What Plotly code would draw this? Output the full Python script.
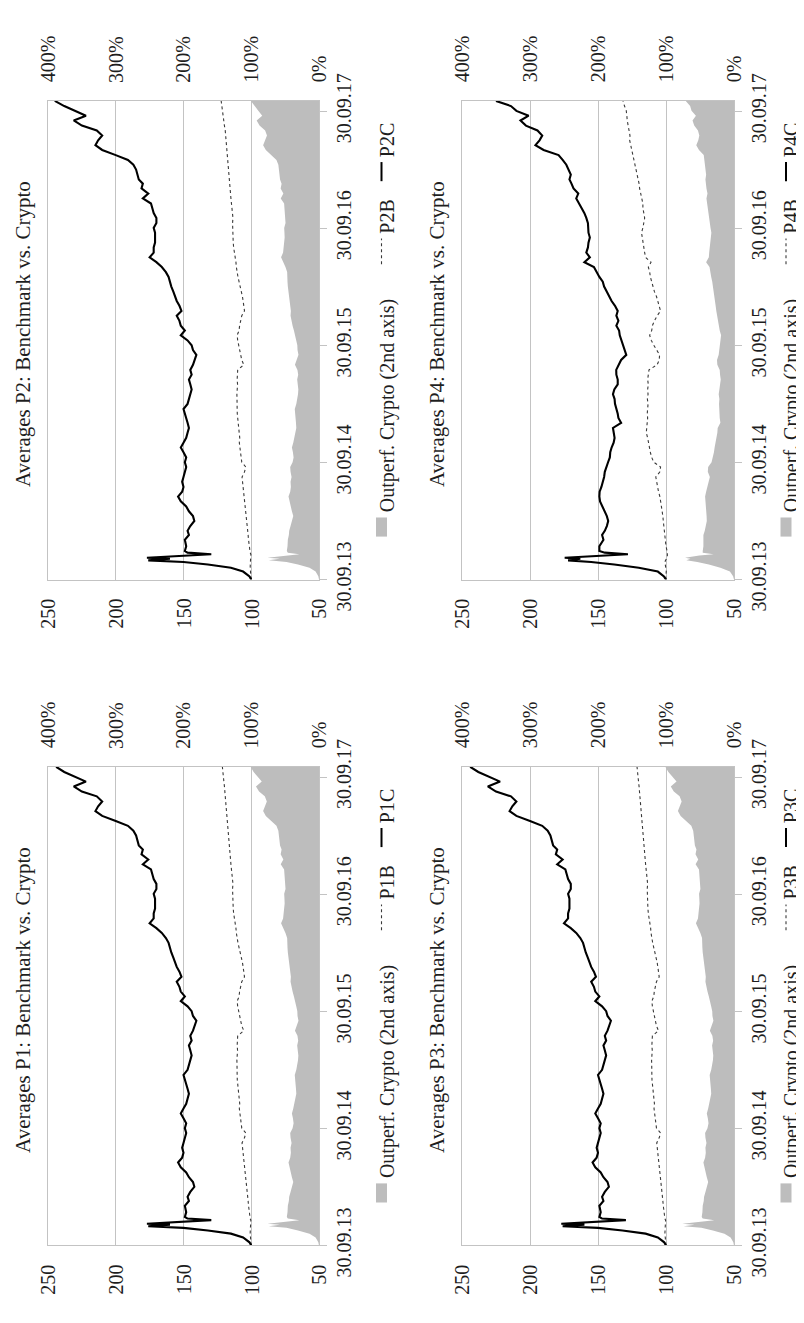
import plotly.graph_objects as go

# ---------------- data ----------------
DATES = [
    "2013-09-30", "2013-10-10", "2013-10-25", "2013-11-06", "2013-11-16", "2013-11-24",
    "2013-11-29", "2013-12-04", "2013-12-07", "2013-12-14", "2013-12-18", "2013-12-23",
    "2013-12-28", "2014-01-12",
    "2014-02-01", "2014-02-16", "2014-03-01", "2014-03-16", "2014-04-01", "2014-04-16",
    "2014-05-01", "2014-05-16", "2014-06-01", "2014-06-16", "2014-07-01", "2014-07-16",
    "2014-08-01", "2014-08-16", "2014-09-01", "2014-09-16", "2014-10-01", "2014-10-16",
    "2014-11-01", "2014-11-16", "2014-12-01", "2014-12-16",
    "2015-01-01", "2015-01-16", "2015-02-01", "2015-02-16", "2015-03-01", "2015-03-16",
    "2015-04-01", "2015-04-16", "2015-05-01", "2015-05-16", "2015-06-01", "2015-06-16",
    "2015-07-01", "2015-07-16", "2015-08-01", "2015-08-16", "2015-09-01", "2015-09-16",
    "2015-10-01", "2015-10-16", "2015-11-01", "2015-11-16", "2015-12-01", "2015-12-16",
    "2016-01-01", "2016-01-16", "2016-02-01", "2016-02-16", "2016-03-01", "2016-03-16",
    "2016-04-01", "2016-04-16", "2016-05-01", "2016-05-16", "2016-06-01", "2016-06-16",
    "2016-07-01", "2016-07-16", "2016-08-01", "2016-08-16", "2016-09-01", "2016-09-16",
    "2016-10-01", "2016-10-16", "2016-11-01", "2016-11-16", "2016-12-01", "2016-12-16",
    "2017-01-01", "2017-01-16", "2017-02-01", "2017-02-16", "2017-03-01", "2017-03-16",
    "2017-04-01", "2017-04-16", "2017-05-01", "2017-05-16", "2017-06-01", "2017-06-16",
    "2017-07-01", "2017-07-16", "2017-08-01", "2017-08-16", "2017-09-01", "2017-09-16",
    "2017-10-01", "2017-10-16", "2017-11-01",
]

P2_CRYPTO = [
    100, 101.3, 106, 115, 132, 150, 176, 160, 177, 152,
    129.5, 147, 149, 148, 149, 146, 147, 145, 142, 143,
    146, 148, 152, 154, 151, 150, 151, 150, 149, 148,
    149, 148, 150, 152, 150, 148, 147, 146, 147, 148,
    149, 150, 147, 146, 145, 144, 145, 146, 144, 145,
    143, 142, 140.5, 143, 144, 147, 152, 149, 152, 153,
    155, 151.5, 153, 155, 156, 157.5, 159, 160, 161, 163,
    166, 170, 175, 172, 172, 171, 171, 171, 172, 170,
    170, 172, 173, 174, 180, 176, 181, 180, 183, 184,
    185, 187, 191, 200, 210, 215, 213, 210, 214, 225,
    231, 222, 230, 238, 245,
]
P2_BENCH = [
    100, 100.3, 100.6, 100.8, 100.7, 100.5, 100.6, 100.4, 100.7, 100.5,
    100.3, 100.8, 101, 101.3, 102, 102.3, 102.6, 103, 103.4, 103.8,
    104, 104.5, 105, 105.5, 105.8, 106, 106.5, 106.8, 105, 104,
    107, 107.5, 108, 108.6, 108.8, 108.5, 109, 109.3, 109.6, 110,
    110.3, 110.4, 110.2, 110.5, 110.6, 110.3, 110.1, 110.4, 110.2, 110,
    105.5, 107, 107.8, 108.6, 109, 110, 110.4, 109, 108.6, 108,
    107, 105, 105.3, 106, 106.5, 107.5, 108.3, 109, 109.8, 110.5,
    111, 111.3, 112, 112.5, 113, 113.3, 113.5, 113.2, 113.6, 113.8,
    113.5, 114, 114.5, 114.8, 115, 115.3, 115.6, 116, 116.2, 116.5,
    116.8, 117, 117.3, 117.5, 117.6, 117.8, 118.2, 118.8, 119.2, 119.8,
    120.3, 120.8, 121.3, 121.8, 122.2,
]
P2_OUTPERF = [
    0, 1, 5, 14, 31, 48, 74, 58, 76, 51,
    29, 46, 47.5, 46.5, 46, 44.5, 44, 42, 40, 38,
    40, 41.5, 44, 45, 42.5, 41.5, 42, 40.5, 42, 42.5,
    39, 37.5, 38.5, 40, 38, 36.5, 35, 33.5, 34, 34.5,
    35, 35.8, 33.5, 32, 31, 30.5, 31.7, 32.2, 30.7, 31.8,
    35.5, 32.7, 30.3, 31.7, 32, 33.6, 35, 37, 39, 40,
    42, 41.5, 42.5, 44, 45, 45.5, 46, 46.5, 46.5, 47,
    49.5, 52.7, 56, 53, 52.2, 51, 50.7, 51, 51.4, 49.4,
    49.8, 51, 51, 51.5, 56.5, 52.6, 56.6, 55.2, 57.5, 58,
    58.4, 60, 62.8, 70, 78.5, 82.5, 80.2, 76.8, 79.5, 87.8,
    92, 83.8, 89.6, 95.5, 100.5,
]

P1_CRYPTO = [
    100, 101.3, 106, 115, 132, 150, 176, 160, 177, 152,
    129.5, 147, 149, 148, 149, 146, 147, 145, 142, 143,
    146, 148, 152, 154, 151, 150, 151, 150, 149, 148,
    149, 148, 150, 152, 150, 148, 147, 146, 147, 148,
    149, 150, 147, 146, 145, 144, 145, 146, 144, 145,
    143, 142, 140.5, 143, 144, 147, 152, 149, 152, 153,
    155, 151.5, 153, 155, 156, 157.5, 159, 160, 161, 163,
    166, 170, 175, 172, 172, 171, 171, 171, 172, 170,
    170, 172, 173, 174, 180, 176, 181, 180, 183, 184,
    185, 187, 191, 200, 210, 215, 213, 210, 214, 225,
    231, 222, 230, 238, 244,
]
P1_BENCH = [
    100, 100.3, 100.6, 100.8, 100.7, 100.5, 100.6, 100.4, 100.7, 100.5,
    100.3, 100.8, 101, 101.3, 102, 102.3, 102.6, 103, 103.4, 103.8,
    104, 104.5, 105, 105.5, 105.8, 106, 106.5, 106.8, 105, 104,
    107, 107.5, 108, 108.6, 108.8, 108.5, 109, 109.3, 109.6, 110,
    110.3, 110.4, 110.2, 110.5, 110.6, 110.3, 110.1, 110.4, 110.2, 110,
    105.5, 107, 107.8, 108.6, 109, 110, 110.4, 109, 108.6, 108,
    107, 105, 105.3, 106, 106.5, 107.5, 108.3, 109, 109.8, 110.5,
    111, 111.3, 112, 112.5, 113, 113.3, 113.5, 113.2, 113.6, 113.8,
    113.5, 114, 114.5, 114.8, 115, 115.3, 115.6, 116, 116.2, 116.5,
    116.8, 117, 117.3, 117.5, 117.6, 117.8, 118.2, 118.6, 119, 119.4,
    119.8, 120.2, 120.6, 121, 121.3,
]
P1_OUTPERF = [
    0, 1, 5, 14, 31, 48, 74, 58, 76, 51,
    29, 46, 47.5, 46.5, 46, 44.5, 44, 42, 40, 38,
    40, 41.5, 44, 45, 42.5, 41.5, 42, 40.5, 42, 42.5,
    39, 37.5, 38.5, 40, 38, 36.5, 35, 33.5, 34, 34.5,
    35, 35.8, 33.5, 32, 31, 30.5, 31.7, 32.2, 30.7, 31.8,
    35.5, 32.7, 30.3, 31.7, 32, 33.6, 35, 37, 39, 40,
    42, 41.5, 42.5, 44, 45, 45.5, 46, 46.5, 46.5, 47,
    49.5, 52.7, 56, 53, 52.2, 51, 50.7, 51, 51.4, 49.4,
    49.8, 51, 51, 51.5, 56.5, 52.6, 56.6, 55.2, 57.5, 58,
    58.4, 60, 62.8, 70, 78.5, 82.5, 80.2, 77, 80, 88.5,
    93, 84.5, 90.5, 96.5, 101,
]

P3_CRYPTO = [
    100, 101.3, 106, 115, 132, 150, 176, 160, 177, 152,
    129.5, 147, 149, 148, 149, 146, 147, 145, 142, 143,
    146, 148, 152, 154, 151, 150, 151, 150, 149, 148,
    149, 148, 150, 152, 150, 148, 147, 146, 147, 148,
    149, 150, 147, 146, 145, 144, 145, 146, 144, 145,
    143, 142, 140.5, 143, 144, 147, 152, 149, 152, 153,
    155, 151.5, 153, 155, 156, 157.5, 159, 160, 161, 163,
    166, 170, 175, 172, 172, 171, 171, 171, 172, 170,
    170, 172, 173, 174, 180, 176, 181, 180, 183, 184,
    185, 187, 191, 200, 210, 215, 213, 210, 214, 225,
    231, 222, 230, 238, 244,
]
P3_BENCH = [
    100, 100.3, 100.6, 100.8, 100.7, 100.5, 100.6, 100.4, 100.7, 100.5,
    100.3, 100.8, 101, 101.3, 102, 102.3, 102.6, 103, 103.4, 103.8,
    104, 104.5, 105, 105.5, 105.8, 106, 106.5, 106.8, 105, 104,
    107, 107.5, 108, 108.6, 108.8, 108.5, 109, 109.3, 109.6, 110,
    110.3, 110.4, 110.2, 110.5, 110.6, 110.3, 110.1, 110.4, 110.2, 110,
    105.5, 107, 107.8, 108.6, 109, 110, 110.4, 109, 108.6, 108,
    107, 105, 105.3, 106, 106.5, 107.5, 108.3, 109, 109.8, 110.5,
    111, 111.3, 112, 112.5, 113, 113.3, 113.5, 113.2, 113.6, 113.8,
    113.5, 114, 114.5, 114.8, 115, 115.3, 115.6, 116, 116.2, 116.5,
    116.8, 117, 117.3, 117.5, 117.6, 117.8, 118.2, 118.6, 119, 119.4,
    119.8, 120.2, 120.6, 121, 121.3,
]
P3_OUTPERF = [
    0, 1, 5, 14, 31, 48, 74, 58, 76, 51,
    29, 46, 47.5, 46.5, 46, 44.5, 44, 42, 40, 38,
    40, 41.5, 44, 45, 42.5, 41.5, 42, 40.5, 42, 42.5,
    39, 37.5, 38.5, 40, 38, 36.5, 35, 33.5, 34, 34.5,
    35, 35.8, 33.5, 32, 31, 30.5, 31.7, 32.2, 30.7, 31.8,
    35.5, 32.7, 30.3, 31.7, 32, 33.6, 35, 37, 39, 40,
    42, 41.5, 42.5, 44, 45, 45.5, 46, 46.5, 46.5, 47,
    49.5, 52.7, 56, 53, 52.2, 51, 50.7, 51, 51.4, 49.4,
    49.8, 51, 51, 51.5, 56.5, 52.6, 56.6, 55.2, 57.5, 58,
    58.4, 60, 62.8, 70, 78.5, 82.5, 80.2, 77, 80, 88.5,
    93, 84.5, 90.5, 96.5, 101,
]

P4_CRYPTO = [
    100, 101.5, 106, 120, 138, 155, 172, 163, 174.5, 150,
    128, 145, 149, 149, 146, 147, 145, 143.5, 142.5, 143.5,
    145, 146.5, 148.5, 149, 148.8, 147.5, 146.3, 145.5, 145, 144,
    142.6, 141.3, 141, 140, 138.5, 137.8, 138.5, 139, 133, 135,
    135.5, 136.5, 137.5, 137.8, 139, 138, 135.5, 135.5, 136.5, 136.6,
    135, 133, 129.2, 130.5, 131.5, 133, 134, 134.5, 136.5, 135,
    136.5, 135.5, 137.5, 140, 142, 143.5, 145.5, 146.5, 149, 151,
    153, 160, 156, 158.6, 157.4, 157, 156, 157, 157.4, 157.4,
    158.6, 160, 162, 164, 166, 164.5, 168, 169.5, 171, 170,
    172, 173.3, 176, 179, 190, 196, 193, 191, 194.5, 203,
    207, 201, 210, 214, 225,
]
P4_BENCH = [
    100, 100.2, 99.8, 100, 100.5, 100.8, 100.3, 99.5, 99.2, 99,
    98.8, 99, 99.2, 100, 100.5, 101, 101.4, 101.6, 102, 102.3,
    102.8, 103.2, 104, 104.5, 105.5, 106, 107, 107.5, 104.5, 104,
    109, 110.5, 111.5, 112, 112.5, 113.5, 114.5, 114, 113.7, 113.5,
    113.8, 113.5, 113.2, 113.7, 113.2, 113.5, 113, 113.5, 113.2, 112.5,
    106.5, 105, 104.7, 107, 109, 110.8, 112, 110.5, 110, 108.5,
    106.5, 104, 105, 106, 107, 108.5, 109.5, 111, 111.5, 112,
    113, 111, 115, 115.7, 116.3, 117, 117.5, 118, 117, 116.5,
    115.7, 116.3, 117, 117, 118, 118.5, 119.4, 119.8, 120.5, 121.2,
    121.8, 122.5, 123.5, 124.3, 125.3, 126, 126.7, 126.5, 127.3, 128,
    128.5, 128.8, 129.2, 130.5, 131.6,
]
P4_OUTPERF = [
    0, 1.3, 6, 20, 37, 54, 70, 64, 72, 51,
    30, 46, 46, 45, 45, 45, 43, 41.5, 40, 40.3,
    41, 42, 42.7, 42.5, 41, 39, 37, 35.5, 38.5, 38,
    33, 31, 29.5, 28.5, 27, 25.5, 24.5, 24, 20, 21,
    21.5, 22, 22, 21.5, 22.5, 21.5, 20, 19.5, 20.5, 21,
    24.5, 25, 22.5, 21.5, 20.5, 19.5, 19, 21, 22.5, 23.5,
    24.5, 26, 27, 28, 28.5, 29, 31, 32, 33.5, 35,
    36, 41, 37, 36.5, 35.5, 34.5, 33.5, 33.3, 34.5, 35.3,
    36.5, 37, 38, 39.5, 40.5, 39, 40.5, 41.5, 42, 41,
    42, 42.5, 43.5, 44.5, 51.5, 55.5, 52.5, 51, 53, 58.5,
    61, 56, 62.5, 64.5, 71,
]

VALUE_TICKS = [50, 100, 150, 200, 250]
PCT_TICKS = [0, 100, 200, 300, 400]
DATE_TICKS = ["2013-09-30", "2014-09-30", "2015-09-30", "2016-09-30", "2017-09-30"]
DATE_LABELS = ["30.09.13", "30.09.14", "30.09.15", "30.09.16", "30.09.17"]
DATE_RANGE = ["2013-09-30", "2017-11-01"]

# ---------------- styling / layout ----------------
W, H = 804, 1323
FONT = "Liberation Serif"
TXT = "#1e1e1e"
GRID = "#c3c3c3"
FILL = "#bdbdbd"


def fx(p):
    return p / W


def fy(p):
    return 1 - p / H


# (name, data..., column offset px, row offset px)
PANELS = [
    ("P1", P1_CRYPTO, P1_BENCH, P1_OUTPERF, 0, 697),
    ("P2", P2_CRYPTO, P2_BENCH, P2_OUTPERF, 0, 0),
    ("P3", P3_CRYPTO, P3_BENCH, P3_OUTPERF, 414, 697),
    ("P4", P4_CRYPTO, P4_BENCH, P4_OUTPERF, 414, 0),
]

fig = go.Figure()
layout = dict(
    width=W, height=H,
    margin=dict(l=0, r=0, t=0, b=0),
    paper_bgcolor="white", plot_bgcolor="white",
    showlegend=False,
    font=dict(family=FONT, color=TXT, size=20),
)
annotations = []
shapes = []


def axname(prefix, n):
    return prefix if n == 1 else f"{prefix}{n}"


def rot_text(text, x, y, xanchor, yanchor, size=20, xref="paper"):
    return dict(text=text, xref=xref, yref="paper", x=x, y=y,
                xanchor=xanchor, yanchor=yanchor, textangle=-90, showarrow=False,
                borderpad=0, font=dict(size=size, family=FONT, color=TXT))


for i, (name, crypto, bench, outp, dx, dy) in enumerate(PANELS, start=1):
    xa, xb = 2 * i - 1, 2 * i
    xa_id, xb_id = axname("x", xa), axname("x", xb)
    y_id = axname("y", i)

    x0, x1 = 40 + dx, 311 + dx + (1 if dx else 0)
    y0, y1 = 69 + dy, 570 + dy

    fig.add_trace(go.Scatter(
        x=outp, y=DATES, xaxis=xa_id, yaxis=y_id, mode="lines",
        fill="tozerox", fillcolor=FILL, line=dict(width=0, color=FILL),
        hoverinfo="skip", name="Outperf. Crypto (2nd axis)"))
    fig.add_trace(go.Scatter(
        x=bench, y=DATES, xaxis=xb_id, yaxis=y_id, mode="lines",
        line=dict(color="#3a3a3a", width=1.1, dash="dot"), name=f"{name}B"))
    fig.add_trace(go.Scatter(
        x=crypto, y=DATES, xaxis=xb_id, yaxis=y_id, mode="lines",
        line=dict(color="black", width=2.1), name=f"{name}C"))

    # secondary (percentage) axis: top, base of the overlay pair
    layout[axname("xaxis", xa)] = dict(
        domain=[fx(x0), fx(x1)], anchor=y_id, side="top",
        range=[400, 0], tickvals=PCT_TICKS, showticklabels=False,
        showgrid=False, zeroline=False, showline=True, linecolor=GRID, linewidth=1.3,
        ticks="", fixedrange=True)
    # primary (index) axis: bottom
    layout[axname("xaxis", xb)] = dict(
        overlaying=xa_id, anchor=y_id, side="bottom",
        range=[250, 50], tickvals=VALUE_TICKS, showticklabels=False,
        showgrid=True, gridcolor=GRID, gridwidth=1.3, zeroline=False,
        showline=True, linecolor=GRID, linewidth=1.3,
        ticks="", fixedrange=True)
    # date axis: right side
    layout[axname("yaxis", i)] = dict(
        domain=[fy(y1), fy(y0)], anchor=xa_id, side="right", type="date",
        range=DATE_RANGE, tickvals=DATE_TICKS, ticktext=DATE_LABELS, tickangle=-90,
        ticks="outside", ticklen=7, tickcolor=GRID, tickwidth=1.3,
        showline=True, mirror=True, linecolor=GRID, linewidth=1.3,
        showgrid=False, zeroline=False,
        tickfont=dict(size=20, family=FONT, color=TXT), fixedrange=True)

    # rotated tick labels of both horizontal axes, placed on the axes' own scales
    for v in VALUE_TICKS:
        annotations.append(rot_text(str(v), v, fy(589 + dy), "center", "top", xref=xb_id))
    for p in PCT_TICKS:
        annotations.append(rot_text(f"{p}%", p, fy(51 + dy), "center", "bottom", xref=xa_id))

    # panel title (left side)
    annotations.append(rot_text(f"Averages {name}: Benchmark vs. Crypto",
                                fx(15 + dx), fy(313 + dy), "center", "middle", size=21))

    # legend (right side); right column kept clear of the page edge
    if dx:
        lx, sx = 783, 778
    else:
        lx, sx = 379, 373.5
    annotations.append(rot_text("Outperf. Crypto (2nd axis)", fx(lx), fy(501 + dy), "center", "bottom"))
    annotations.append(rot_text(f"{name}B", fx(lx), fy(209 + dy), "center", "bottom"))
    annotations.append(rot_text(f"{name}C", fx(lx), fy(129 + dy), "center", "bottom"))

    shapes.append(dict(type="rect", xref="paper", yref="paper",
                       x0=fx(sx - 5.5), x1=fx(sx + 5.5), y0=fy(525 + dy), y1=fy(505 + dy),
                       fillcolor=FILL, line=dict(width=0)))
    shapes.append(dict(type="line", xref="paper", yref="paper",
                       x0=fx(sx), x1=fx(sx), y0=fy(240 + dy), y1=fy(213 + dy),
                       line=dict(color="#3a3a3a", width=1.1, dash="dot")))
    shapes.append(dict(type="line", xref="paper", yref="paper",
                       x0=fx(sx), x1=fx(sx), y0=fy(153 + dy), y1=fy(133 + dy),
                       line=dict(color="black", width=2)))

layout["annotations"] = annotations
layout["shapes"] = shapes
fig.update_layout(**layout)
fig.write_html("out.html")
